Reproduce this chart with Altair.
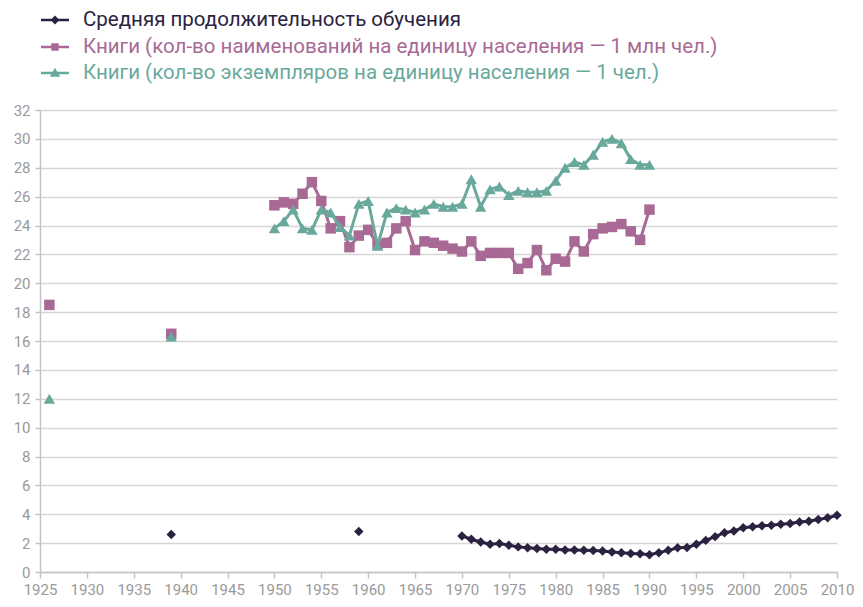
import altair as alt
import pandas as pd

# ---- data ----
edu_name = "Средняя продолжительность обучения"
titles_name = "Книги (кол-во наименований на единицу населения — 1 млн чел.)"
copies_name = "Книги (кол-во экземпляров на единицу населения — 1 чел.)"

edu_years = [1939, 1959] + list(range(1970, 2011))
edu_vals = [2.6, 2.8,
            2.5, 2.27, 2.08, 1.92, 1.97, 1.85, 1.74, 1.68, 1.62, 1.58,
            1.57, 1.53, 1.52, 1.5, 1.49, 1.45, 1.39, 1.34, 1.28, 1.27,
            1.19, 1.34, 1.5, 1.68, 1.69, 1.92, 2.19, 2.45, 2.72, 2.84,
            3.07, 3.14, 3.21, 3.24, 3.3, 3.36, 3.46, 3.52, 3.64, 3.75, 3.93]

book_years = [1926, 1939] + list(range(1950, 1991))
titles_vals = [18.5, 16.5,
               25.4, 25.6, 25.5, 26.2, 27.0, 25.7, 23.8, 24.3, 22.5, 23.3,
               23.7, 22.7, 22.8, 23.8, 24.3, 22.3, 22.9, 22.8, 22.6, 22.4,
               22.2, 22.9, 21.9, 22.1, 22.1, 22.1, 21.0, 21.4, 22.3, 20.9,
               21.7, 21.5, 22.9, 22.2, 23.4, 23.8, 23.9, 24.1, 23.6, 23.0,
               25.1]
copies_vals = [12.0, 16.3,
               23.8, 24.3, 25.1, 23.8, 23.7, 25.1, 24.9, 23.9, 23.3, 25.5,
               25.7, 22.6, 24.9, 25.2, 25.1, 24.9, 25.1, 25.5, 25.3, 25.3,
               25.5, 27.2, 25.3, 26.5, 26.7, 26.1, 26.4, 26.3, 26.3, 26.4,
               27.1, 28.0, 28.4, 28.2, 28.9, 29.8, 30.0, 29.7, 28.6, 28.2,
               28.2]

x_ticks = list(range(1925, 2011, 5))
y_ticks = list(range(0, 33, 2))

colors = {"edu": "#2b2141", "titles": "#a86a94", "copies": "#69a99c"}

FONT = "Roboto"


def frame(name, years, vals):
    seg, s = [], 0
    for i, yr in enumerate(years):
        if i > 0 and yr - years[i - 1] > 1:
            s += 1
        seg.append(s)
    return pd.DataFrame({"year": years, "value": vals, "series": name, "seg": seg})


bar = "M-1,-0.09H1V0.09H-1Z "
paths = {
    "edu": bar + "M0,-0.32L0.32,0L0,0.32L-0.32,0Z",
    "titles": bar + "M-0.27,-0.27H0.27V0.27H-0.27Z",
    "copies": bar + "M0,-0.37L0.37,0.26H-0.37Z",
}

x_enc = alt.X("year:Q",
              scale=alt.Scale(domain=[1925, 2010], nice=False, zero=False),
              axis=alt.Axis(values=x_ticks, format="d", title=None, grid=False,
                            labelOverlap=False, labelFlush=False,
                            labelFont=FONT, labelFontSize=15, labelColor="#9a9a9a",
                            labelPadding=4, tickSize=6, tickColor="#c4c4c4",
                            domainColor="#c4c4c4", domainWidth=1.5, tickWidth=1.5))
y_enc = alt.Y("value:Q",
              scale=alt.Scale(domain=[0, 32], nice=False),
              axis=alt.Axis(values=y_ticks, title=None, grid=True,
                            gridColor="#d6d6d6", gridWidth=1.5,
                            labelOverlap=False, labelFlush=False,
                            labelFont=FONT, labelFontSize=15, labelColor="#9a9a9a",
                            labelPadding=5, tickSize=5, tickColor="#c4c4c4",
                            domainColor="#c4c4c4", domainWidth=1.5, tickWidth=1.5))


def series(key, name, years, vals, shape, size, legend_y):
    df = frame(name, years, vals)
    col = colors[key]
    line = alt.Chart(df).mark_line(color=col, strokeWidth=3).encode(
        x=x_enc, y=y_enc, detail="seg:N")
    pts = alt.Chart(df).mark_point(shape=shape, filled=True, size=size, opacity=1).encode(
        x=x_enc, y=y_enc,
        color=alt.Color("series:N",
                        scale=alt.Scale(domain=[name], range=[col]),
                        legend=alt.Legend(title=None, orient="none",
                                          legendX=1, legendY=legend_y,
                                          padding=0, symbolType=paths[key],
                                          symbolSize=784, symbolStrokeWidth=0,
                                          symbolFillColor=col,
                                          labelColor=col, labelFont=FONT,
                                          labelFontSize=20.5, labelOffset=14,
                                          labelLimit=900)))
    return line + pts


edu = series("edu", edu_name, edu_years, edu_vals, "diamond", 90, -104)
titles = series("titles", titles_name, book_years, titles_vals, "square", 110, -77)
copies = series("copies", copies_name, book_years, copies_vals, "triangle-up", 130, -51)

chart = alt.layer(edu, titles, copies).resolve_scale(color="independent").properties(
    width=797, height=462,
    autosize=alt.AutoSizeParams(type="none"),
    padding={"left": 32, "top": 102, "right": 18, "bottom": 27},
).configure_view(stroke=None)

chart.save("out.html", embed_options={"renderer": "svg", "actions": False})
